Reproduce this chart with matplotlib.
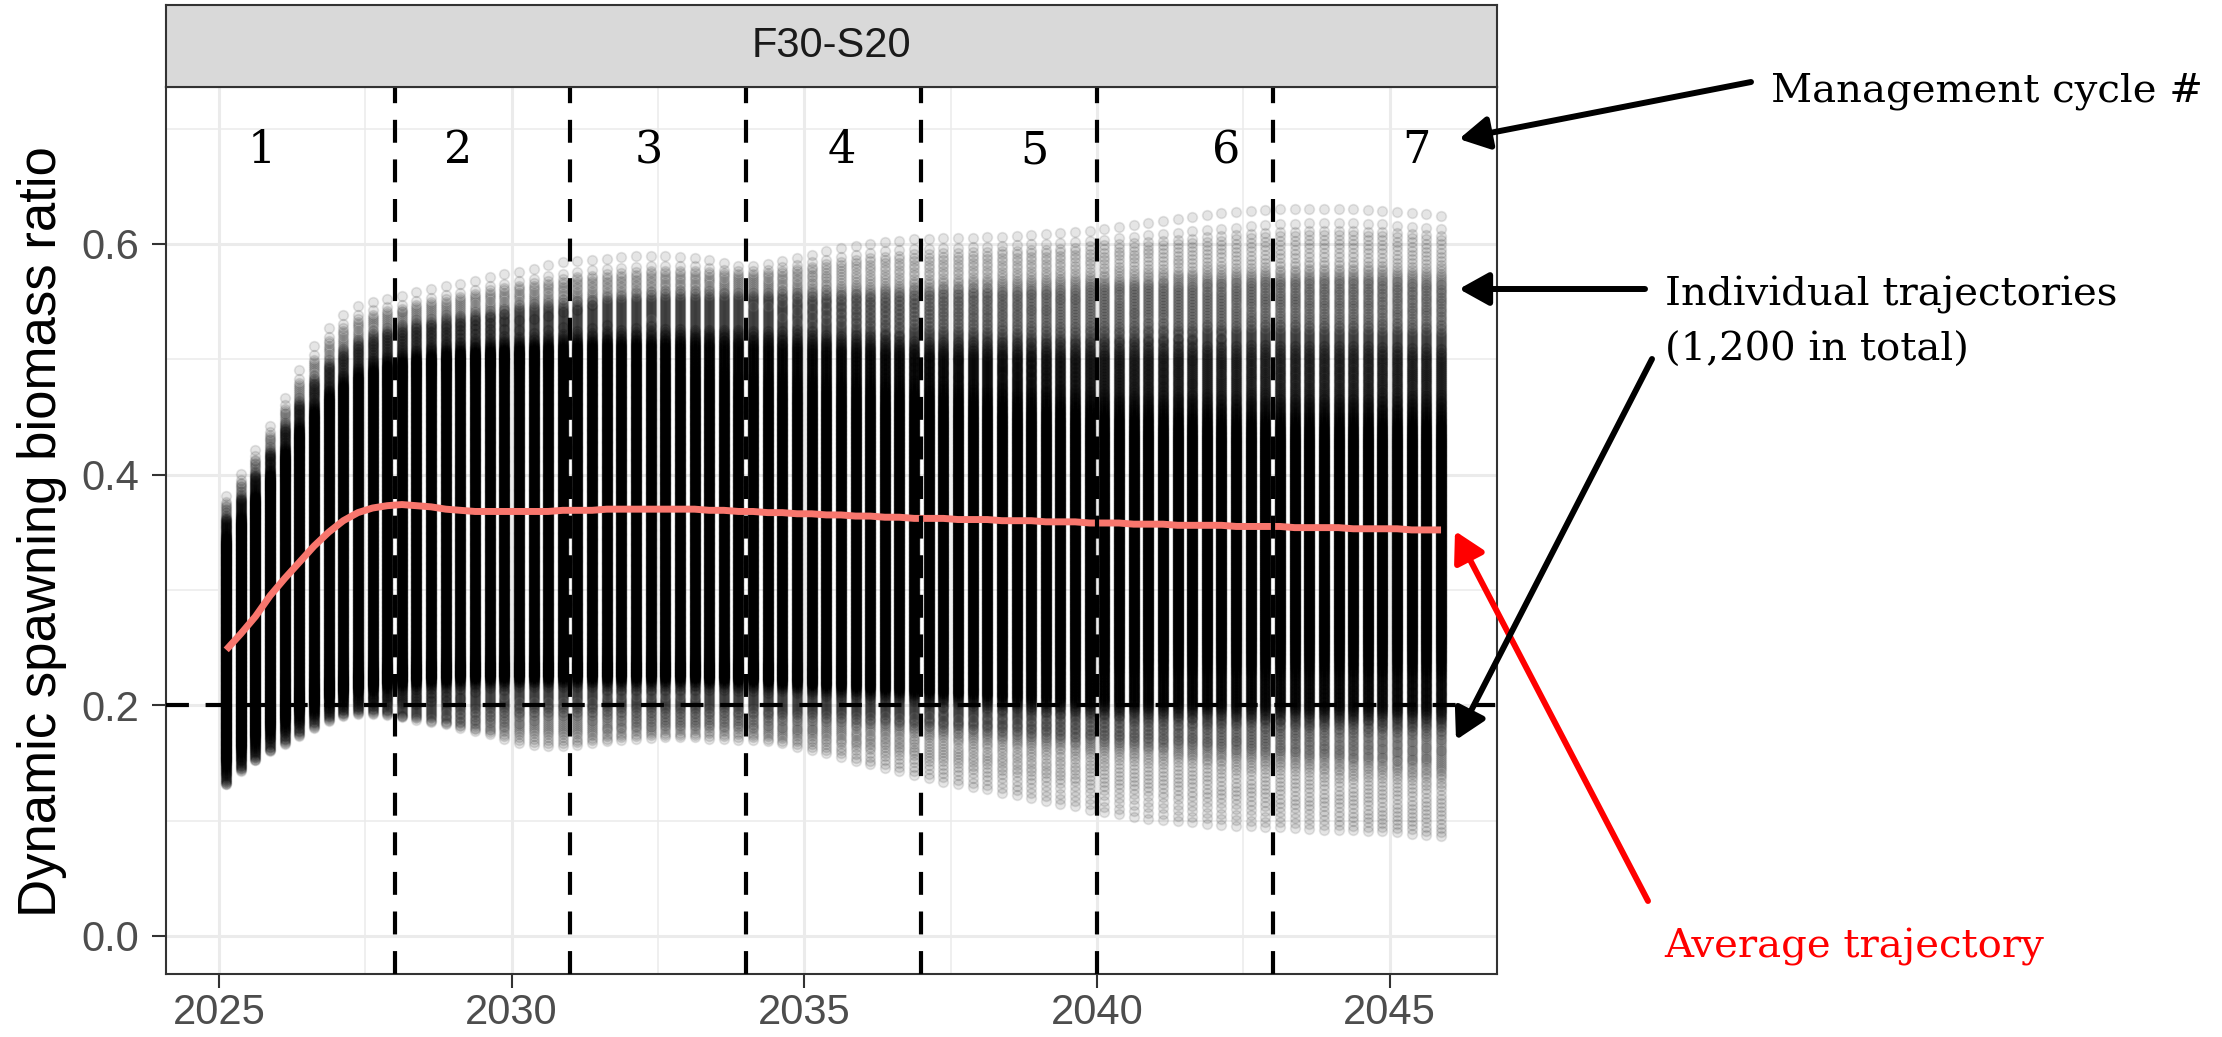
import numpy as np
import matplotlib
matplotlib.use("Agg")
import matplotlib.pyplot as plt
from matplotlib.patches import FancyArrowPatch

plt.rcParams['font.family'] = ['Liberation Sans', 'DejaVu Sans']

# quarterly projection steps, 1,200 simulated trajectories per step
quarters = np.arange(2025.125, 2046.0, 0.25)
n_traj = 1200

# quantile levels of the knot arrays below
probs = [0.0, 0.004, 0.013, 0.037, 0.14, 0.86, 0.955, 0.99, 0.9985, 1.0]

# spawning biomass ratio quantiles per quarter (one row per year)
q_min = [0.131, 0.143, 0.152, 0.160, 0.166, 0.173, 0.180, 0.186,
         0.190, 0.192, 0.192, 0.191, 0.189, 0.187, 0.185, 0.183,
         0.180, 0.177, 0.174, 0.170, 0.166, 0.164, 0.163, 0.163,
         0.164, 0.166, 0.168, 0.169, 0.170, 0.171, 0.171, 0.171,
         0.171, 0.170, 0.170, 0.169, 0.169, 0.168, 0.166, 0.163,
         0.160, 0.157, 0.154, 0.150, 0.147, 0.144, 0.141, 0.138,
         0.135, 0.132, 0.130, 0.127, 0.125, 0.122, 0.120, 0.117,
         0.115, 0.112, 0.110, 0.107, 0.105, 0.103, 0.101, 0.099,
         0.098, 0.097, 0.096, 0.095, 0.094, 0.093, 0.093, 0.092,
         0.092, 0.091, 0.091, 0.090, 0.090, 0.090, 0.089, 0.089,
         0.088, 0.087, 0.086, 0.085]
q004 = [0.134, 0.146, 0.155, 0.163, 0.170, 0.177, 0.184, 0.190,
        0.194, 0.196, 0.196, 0.195, 0.193, 0.192, 0.190, 0.188,
        0.186, 0.184, 0.182, 0.180, 0.178, 0.177, 0.176, 0.176,
        0.176, 0.177, 0.178, 0.179, 0.180, 0.180, 0.181, 0.181,
        0.181, 0.181, 0.180, 0.180, 0.179, 0.178, 0.176, 0.174,
        0.172, 0.170, 0.168, 0.165, 0.163, 0.160, 0.158, 0.155,
        0.153, 0.150, 0.148, 0.146, 0.144, 0.142, 0.140, 0.138,
        0.136, 0.134, 0.132, 0.130, 0.128, 0.126, 0.125, 0.123,
        0.122, 0.120, 0.119, 0.118, 0.117, 0.116, 0.115, 0.114,
        0.113, 0.112, 0.111, 0.110, 0.109, 0.108, 0.107, 0.106,
        0.105, 0.104, 0.103, 0.102]
q013 = [0.140, 0.152, 0.161, 0.170, 0.177, 0.184, 0.191, 0.196,
        0.200, 0.202, 0.203, 0.203, 0.202, 0.201, 0.200, 0.199,
        0.198, 0.197, 0.196, 0.195, 0.194, 0.194, 0.194, 0.194,
        0.194, 0.194, 0.195, 0.195, 0.195, 0.195, 0.195, 0.195,
        0.195, 0.195, 0.195, 0.194, 0.194, 0.193, 0.192, 0.191,
        0.190, 0.189, 0.188, 0.186, 0.185, 0.184, 0.182, 0.181,
        0.180, 0.178, 0.177, 0.176, 0.174, 0.173, 0.172, 0.170,
        0.169, 0.168, 0.166, 0.165, 0.164, 0.163, 0.162, 0.161,
        0.160, 0.159, 0.158, 0.157, 0.156, 0.155, 0.154, 0.153,
        0.152, 0.151, 0.150, 0.149, 0.148, 0.147, 0.146, 0.145,
        0.144, 0.143, 0.142, 0.141]
q037 = [0.150, 0.162, 0.171, 0.180, 0.187, 0.194, 0.200, 0.206,
        0.210, 0.213, 0.215, 0.217, 0.218, 0.219, 0.220, 0.220,
        0.221, 0.221, 0.221, 0.221, 0.221, 0.221, 0.221, 0.221,
        0.221, 0.221, 0.221, 0.221, 0.221, 0.221, 0.221, 0.221,
        0.221, 0.220, 0.220, 0.219, 0.219, 0.218, 0.217, 0.216,
        0.215, 0.214, 0.213, 0.212, 0.211, 0.210, 0.209, 0.208,
        0.207, 0.206, 0.205, 0.204, 0.203, 0.202, 0.201, 0.200,
        0.200, 0.199, 0.198, 0.198, 0.197, 0.196, 0.196, 0.195,
        0.195, 0.194, 0.194, 0.193, 0.193, 0.192, 0.192, 0.191,
        0.191, 0.191, 0.190, 0.190, 0.190, 0.189, 0.189, 0.189,
        0.188, 0.188, 0.188, 0.187]
q14 = [0.172, 0.184, 0.194, 0.203, 0.210, 0.216, 0.222, 0.227,
       0.231, 0.234, 0.236, 0.238, 0.240, 0.241, 0.242, 0.243,
       0.243, 0.244, 0.244, 0.244, 0.244, 0.244, 0.244, 0.244,
       0.244, 0.244, 0.244, 0.244, 0.244, 0.244, 0.244, 0.244,
       0.243, 0.243, 0.243, 0.243, 0.242, 0.242, 0.242, 0.242,
       0.241, 0.241, 0.241, 0.241, 0.240, 0.240, 0.240, 0.240,
       0.240, 0.240, 0.239, 0.239, 0.239, 0.239, 0.239, 0.239,
       0.238, 0.238, 0.238, 0.238, 0.238, 0.238, 0.238, 0.238,
       0.238, 0.238, 0.238, 0.238, 0.238, 0.238, 0.238, 0.238,
       0.238, 0.238, 0.238, 0.238, 0.238, 0.238, 0.238, 0.238,
       0.238, 0.238, 0.238, 0.238]
q86 = [0.325, 0.342, 0.361, 0.380, 0.398, 0.416, 0.431, 0.444,
       0.453, 0.460, 0.466, 0.471, 0.475, 0.478, 0.481, 0.483,
       0.485, 0.486, 0.487, 0.488, 0.488, 0.488, 0.488, 0.488,
       0.488, 0.487, 0.487, 0.486, 0.486, 0.485, 0.485, 0.484,
       0.483, 0.482, 0.481, 0.480, 0.479, 0.478, 0.477, 0.476,
       0.475, 0.474, 0.473, 0.472, 0.471, 0.470, 0.469, 0.468,
       0.467, 0.466, 0.465, 0.464, 0.463, 0.462, 0.461, 0.460,
       0.459, 0.458, 0.457, 0.456, 0.455, 0.454, 0.453, 0.453,
       0.452, 0.452, 0.451, 0.451, 0.450, 0.450, 0.450, 0.450,
       0.449, 0.449, 0.449, 0.449, 0.449, 0.449, 0.449, 0.449,
       0.449, 0.449, 0.449, 0.449]
q955 = [0.345, 0.362, 0.381, 0.400, 0.420, 0.440, 0.457, 0.471,
        0.481, 0.489, 0.494, 0.498, 0.501, 0.503, 0.505, 0.507,
        0.508, 0.509, 0.510, 0.511, 0.512, 0.513, 0.514, 0.515,
        0.516, 0.517, 0.518, 0.518, 0.519, 0.519, 0.520, 0.520,
        0.520, 0.520, 0.520, 0.520, 0.519, 0.519, 0.518, 0.518,
        0.517, 0.517, 0.516, 0.516, 0.515, 0.515, 0.514, 0.514,
        0.513, 0.513, 0.513, 0.513, 0.513, 0.513, 0.513, 0.513,
        0.513, 0.513, 0.513, 0.514, 0.514, 0.514, 0.515, 0.515,
        0.515, 0.516, 0.516, 0.517, 0.517, 0.517, 0.518, 0.518,
        0.518, 0.518, 0.518, 0.518, 0.518, 0.518, 0.518, 0.517,
        0.517, 0.516, 0.516, 0.515]
q99 = [0.362, 0.380, 0.400, 0.420, 0.442, 0.463, 0.482, 0.497,
       0.508, 0.516, 0.521, 0.525, 0.528, 0.531, 0.533, 0.535,
       0.537, 0.539, 0.541, 0.543, 0.545, 0.547, 0.548, 0.549,
       0.551, 0.552, 0.553, 0.554, 0.555, 0.556, 0.557, 0.557,
       0.557, 0.557, 0.557, 0.557, 0.557, 0.557, 0.557, 0.558,
       0.558, 0.559, 0.559, 0.560, 0.560, 0.561, 0.561, 0.562,
       0.562, 0.563, 0.563, 0.564, 0.564, 0.565, 0.565, 0.566,
       0.566, 0.567, 0.567, 0.568, 0.568, 0.569, 0.569, 0.570,
       0.570, 0.571, 0.571, 0.572, 0.572, 0.573, 0.573, 0.574,
       0.574, 0.574, 0.575, 0.575, 0.575, 0.575, 0.575, 0.575,
       0.574, 0.574, 0.573, 0.573]
q9985 = [0.375, 0.394, 0.414, 0.435, 0.458, 0.481, 0.501, 0.517,
         0.528, 0.536, 0.540, 0.543, 0.545, 0.548, 0.551, 0.553,
         0.555, 0.558, 0.561, 0.563, 0.565, 0.567, 0.569, 0.571,
         0.573, 0.574, 0.575, 0.576, 0.577, 0.578, 0.578, 0.578,
         0.578, 0.577, 0.576, 0.575, 0.575, 0.576, 0.578, 0.580,
         0.582, 0.584, 0.586, 0.588, 0.590, 0.591, 0.592, 0.593,
         0.593, 0.594, 0.594, 0.595, 0.595, 0.596, 0.596, 0.597,
         0.597, 0.598, 0.599, 0.600, 0.601, 0.602, 0.603, 0.604,
         0.605, 0.606, 0.607, 0.608, 0.609, 0.610, 0.611, 0.612,
         0.613, 0.613, 0.614, 0.614, 0.614, 0.614, 0.613, 0.613,
         0.612, 0.611, 0.610, 0.609]
q_max = [0.384, 0.403, 0.424, 0.445, 0.470, 0.494, 0.515, 0.531,
         0.542, 0.550, 0.553, 0.556, 0.558, 0.562, 0.565, 0.567,
         0.569, 0.572, 0.575, 0.578, 0.580, 0.583, 0.586, 0.589,
         0.590, 0.591, 0.592, 0.593, 0.594, 0.594, 0.594, 0.593,
         0.592, 0.590, 0.586, 0.583, 0.583, 0.585, 0.588, 0.591,
         0.594, 0.597, 0.600, 0.602, 0.604, 0.606, 0.607, 0.608,
         0.608, 0.609, 0.609, 0.609, 0.610, 0.610, 0.611, 0.612,
         0.613, 0.614, 0.615, 0.616, 0.617, 0.619, 0.621, 0.623,
         0.625, 0.627, 0.629, 0.631, 0.633, 0.634, 0.635, 0.636,
         0.637, 0.637, 0.637, 0.637, 0.637, 0.637, 0.636, 0.635,
         0.634, 0.633, 0.632, 0.630]

# average trajectory
mean_ratio = [0.248, 0.262, 0.277, 0.295, 0.310, 0.324, 0.338, 0.350,
              0.360, 0.367, 0.371, 0.373, 0.374, 0.373, 0.372, 0.370,
              0.369, 0.368, 0.368, 0.368, 0.368, 0.368, 0.368, 0.369,
              0.369, 0.369, 0.370, 0.370, 0.370, 0.370, 0.370, 0.370,
              0.370, 0.369, 0.369, 0.368, 0.368, 0.367, 0.367, 0.366,
              0.366, 0.365, 0.365, 0.364, 0.364, 0.363, 0.363, 0.362,
              0.362, 0.362, 0.361, 0.361, 0.361, 0.360, 0.360, 0.360,
              0.359, 0.359, 0.359, 0.358, 0.358, 0.358, 0.357, 0.357,
              0.357, 0.356, 0.356, 0.356, 0.356, 0.355, 0.355, 0.355,
              0.355, 0.354, 0.354, 0.354, 0.354, 0.353, 0.353, 0.353,
              0.353, 0.352, 0.352, 0.352]

# management cycle boundaries and labels
cycle_breaks = [2028, 2031, 2034, 2037, 2040, 2043]
cycle_labels = ['1', '2', '3', '4', '5', '6', '7']
cycle_label_x = [2025.74, 2029.08, 2032.34, 2035.64, 2038.93, 2042.2, 2045.46]
cycle_label_y = 0.681
threshold = 0.2


def spread(levels, knots):
    # quantile curve through the knots, eased a little around each knot so
    # the shading does not step (window shrinks towards the tails)
    w = np.minimum(levels, 1 - levels)
    offs = np.linspace(-0.3, 0.3, 15)
    return np.mean([np.interp(levels + c * w, probs, knots) for c in offs],
                   axis=0)


W, H = 2222, 1037
fig = plt.figure(figsize=(W / 100, H / 100), dpi=100)


def fig_xy(x, y):
    # pixel position (from top-left) to figure fraction
    return x / W, 1 - y / H


ax = fig.add_axes([165.5 / W, 1 - 974 / H, (1497 - 165.5) / W, (974 - 87) / H])
ax.set_xlim(2024.088, 2046.831)
ax.set_ylim(-0.033, 0.736)

# spread the trajectories of every quarter over its quantiles
levels = (np.arange(n_traj) + 0.5) / n_traj
xs, ys = [], []
for k, t in enumerate(quarters):
    knots = [q_min[k], q004[k], q013[k], q037[k], q14[k],
             q86[k], q955[k], q99[k], q9985[k], q_max[k]]
    ys.append(spread(levels, knots))
    xs.append(np.full(n_traj, t))
xs = np.concatenate(xs)
ys = np.concatenate(ys)

ax.scatter(xs, ys, s=49, c='black', edgecolors='black', linewidths=1.2,
           alpha=0.1, zorder=2)
ax.plot(quarters, mean_ratio, color='#F8766D', lw=5, zorder=3,
        solid_capstyle='butt')

dash = (0, (5.5, 4))
for xb in cycle_breaks:
    ax.axvline(xb, color='black', lw=3, ls=dash, zorder=4)
ax.axhline(threshold, color='black', lw=3, ls=dash, zorder=4)

for lab, xl in zip(cycle_labels, cycle_label_x):
    ax.text(xl, cycle_label_y, lab, ha='center', va='center',
            fontsize=32, family='DejaVu Serif', color='black', zorder=5)

# theme_bw look
ax.set_xticks([2025, 2030, 2035, 2040, 2045])
ax.set_xticks([2027.5, 2032.5, 2037.5, 2042.5], minor=True)
ax.set_yticks([0.0, 0.2, 0.4, 0.6])
ax.set_yticklabels(['0.0', '0.2', '0.4', '0.6'])
ax.set_yticks([0.1, 0.3, 0.5, 0.7], minor=True)
ax.set_axisbelow(True)
ax.grid(which='major', color='#EBEBEB', lw=2.2)
ax.grid(which='minor', color='#EBEBEB', lw=1.1)
ax.tick_params(which='major', length=10, width=1.5, color='#333333',
               labelsize=30, labelcolor='#4D4D4D')
ax.tick_params(axis='y', pad=9)
ax.tick_params(axis='x', pad=4)
ax.tick_params(which='minor', length=0)
for sp in ax.spines.values():
    sp.set_color('#333333')
    sp.set_linewidth(1.5)

# facet strip
strip = fig.add_axes([165.5 / W, 1 - 87 / H, (1497 - 165.5) / W, (87 - 5) / H])
strip.set_facecolor('#D9D9D9')
strip.set_xticks([])
strip.set_yticks([])
for sp in strip.spines.values():
    sp.set_color('#333333')
    sp.set_linewidth(1.5)
strip.text(0.5, 0.5, 'F30-S20', ha='center', va='center', fontsize=30,
           color='#1A1A1A', transform=strip.transAxes)

fig.text(*fig_xy(42.5, 532), 'Dynamic spawning biomass ratio', rotation=90,
         ha='center', va='center', fontsize=38, color='black')

# call-outs
serif = dict(family='DejaVu Serif', fontsize=29, va='baseline', ha='left')
fig.text(*fig_xy(1771, 101), 'Management cycle #', color='black', **serif)
fig.text(*fig_xy(1665, 305), 'Individual trajectories', color='black', **serif)
fig.text(*fig_xy(1665, 361), '(1,200 in total)', color='black', **serif)
fig.text(*fig_xy(1664, 957), 'Average trajectory', color='#FF0000', **serif)

arrows = [((1648, 901), (1455, 531), '#FF0000'),
          ((1751, 82), (1459, 139), 'black'),
          ((1645, 289), (1459, 289), 'black'),
          ((1652, 359), (1456, 740), 'black')]
for tail, tip, col in arrows:
    fig.add_artist(FancyArrowPatch(fig_xy(*tail), fig_xy(*tip),
                                   transform=fig.transFigure,
                                   arrowstyle='-|>,head_length=0.9,head_width=0.5',
                                   mutation_scale=20, lw=4.3, color=col,
                                   shrinkA=0, shrinkB=0))

fig.savefig('out.png', dpi=100)
